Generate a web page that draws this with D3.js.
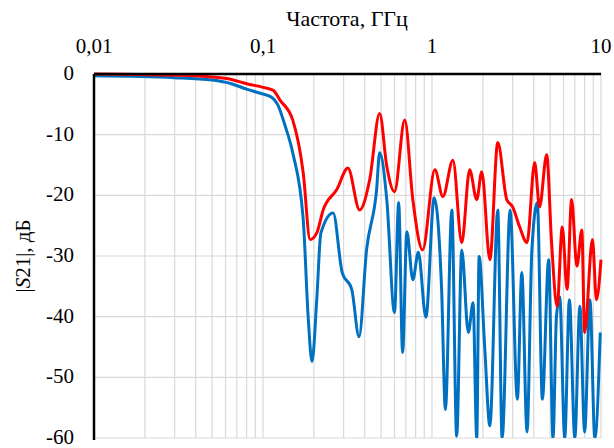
<!DOCTYPE html><html><head><meta charset="utf-8"><script src="https://cdn.jsdelivr.net/npm/d3@7"></script>
<style>body{margin:0;background:#fff} svg text{font-family:"Times New Roman","Liberation Serif","DejaVu Serif",serif !important}</style></head><body><svg id="c" width="614" height="448"></svg>
<script>
const xTicks=[0.01,0.1,1,10], xTickLabels=["0,01","0,1","1","10"];
const yTicks=[0,-10,-20,-30,-40,-50,-60];
const redF=[0.01,0.03,0.05,0.065,0.08,0.1,0.115,0.126,0.15,0.173,0.19,0.208,0.227,0.274,0.318,0.373,0.428,0.49,0.54,0.6,0.69,0.77,0.88,1.04,1.16,1.33,1.5,1.67,1.84,1.97,2.2,2.45,2.77,3.0,3.3,3.65,4.05,4.33,4.77,5.1,5.5,5.9,6.3,6.7,7.2,7.7,8.0,8.9,9.4,10];
const redV=[0,-0.2,-0.5,-0.9,-1.6,-2.2,-2.7,-4.3,-7.6,-16.3,-27.3,-26.2,-22.4,-19,-15.5,-22.4,-17.4,-6.5,-15.2,-19.4,-7.6,-20.7,-29,-15.8,-20.2,-14.2,-27.8,-15.8,-20.7,-16.1,-30.6,-11.3,-20.7,-21.9,-25.2,-27.8,-14.6,-21.9,-13.3,-27.8,-38.3,-25.2,-35.5,-20.7,-31.7,-25.7,-42.6,-27.3,-37.2,-30.6];
const blueF=[0.01,0.03,0.05,0.065,0.08,0.1,0.112,0.122,0.135,0.15,0.173,0.185,0.195,0.208,0.22,0.26,0.294,0.335,0.37,0.41,0.47,0.49,0.54,0.6,0.635,0.67,0.71,0.77,0.83,0.92,1.03,1.14,1.2,1.31,1.4,1.5,1.64,1.75,1.84,1.9,2.05,2.2,2.45,2.6,2.9,3.2,3.4,3.65,3.9,4.2,4.5,4.9,5.2,5.45,5.7,6.1,6.5,7.0,7.5,8.0,8.6,9.2,9.9];
const blueV=[-0.3,-0.6,-1.0,-1.6,-2.5,-3.3,-3.8,-5.0,-8.5,-13,-24,-40,-47.4,-37.2,-26.2,-22.9,-32.7,-35.5,-43.3,-29,-19.1,-13,-20.7,-39.3,-21.2,-45.9,-26,-33.9,-29.4,-40.1,-20.4,-35.5,-55.3,-22.4,-59.7,-29,-42.6,-37.7,-60,-30.1,-45,-58,-22.4,-60,-22.4,-53.6,-32.7,-59,-29,-21.2,-53.6,-30.6,-60,-40,-36.7,-60,-37.2,-60,-38.3,-59,-37.2,-60,-42.6];

const L=94,R=601,T=74,B=438;
const svg=d3.select("#c");
const x=d3.scaleLog().domain([0.01,10]).range([L,R]);
const y=d3.scaleLinear().domain([0,-60]).range([T,B]);
const minor=[];for(let d=0.01;d<10;d*=10)for(let k=2;k<=9;k++)minor.push(d*k);
svg.append("g").selectAll("line").data(minor.concat([1,10,0.1])).join("line")
 .attr("x1",d=>x(d)).attr("x2",d=>x(d)).attr("y1",T).attr("y2",B).attr("stroke","#d9d9d9").attr("stroke-width",1.2);
svg.append("g").selectAll("line").data(yTicks.slice(1)).join("line")
 .attr("x1",L).attr("x2",R).attr("y1",d=>y(d)).attr("y2",d=>y(d)).attr("stroke","#d9d9d9").attr("stroke-width",1.2);
svg.append("clipPath").attr("id","cp").append("rect").attr("x",L).attr("y",T-3).attr("width",R-L+2).attr("height",B-T+3);
const line=d3.line().x(d=>x(d[0])).y(d=>y(d[1])).curve(d3.curveMonotoneX);
const g=svg.append("g").attr("clip-path","url(#cp)");
g.append("path").attr("d",line(blueF.map((f,i)=>[f,blueV[i]]))).attr("fill","none").attr("stroke","#0070C0").attr("stroke-width",3).attr("stroke-linejoin","round");
g.append("path").attr("d",line(redF.map((f,i)=>[f,redV[i]]))).attr("fill","none").attr("stroke","#FF0000").attr("stroke-width",3).attr("stroke-linejoin","round");
svg.append("line").attr("x1",L).attr("x2",R).attr("y1",T).attr("y2",T).attr("stroke","#000").attr("stroke-width",2.5);
svg.append("line").attr("x1",L).attr("x2",L).attr("y1",T).attr("y2",B+2).attr("stroke","#000").attr("stroke-width",2.5);
svg.append("g").selectAll("text").data(xTicks).join("text").attr("x",d=>x(d)).attr("y",53).attr("text-anchor","middle").attr("font-size",21).text((d,i)=>xTickLabels[i]);
svg.append("g").selectAll("text").data(yTicks).join("text").attr("x",L-20).attr("y",d=>y(d)+6).attr("text-anchor","end").attr("font-size",21).text(d=>d);
svg.append("text").attr("x",347).attr("y",26).attr("text-anchor","middle").attr("font-size",22).text("Частота, ГГц");
const yl=svg.append("text").attr("transform","translate(30,256) rotate(-90)").attr("text-anchor","middle").attr("font-size",21);
yl.append("tspan").text("|");yl.append("tspan").attr("font-style","italic").text("S");yl.append("tspan").text("21|, дБ");
</script></body></html>
